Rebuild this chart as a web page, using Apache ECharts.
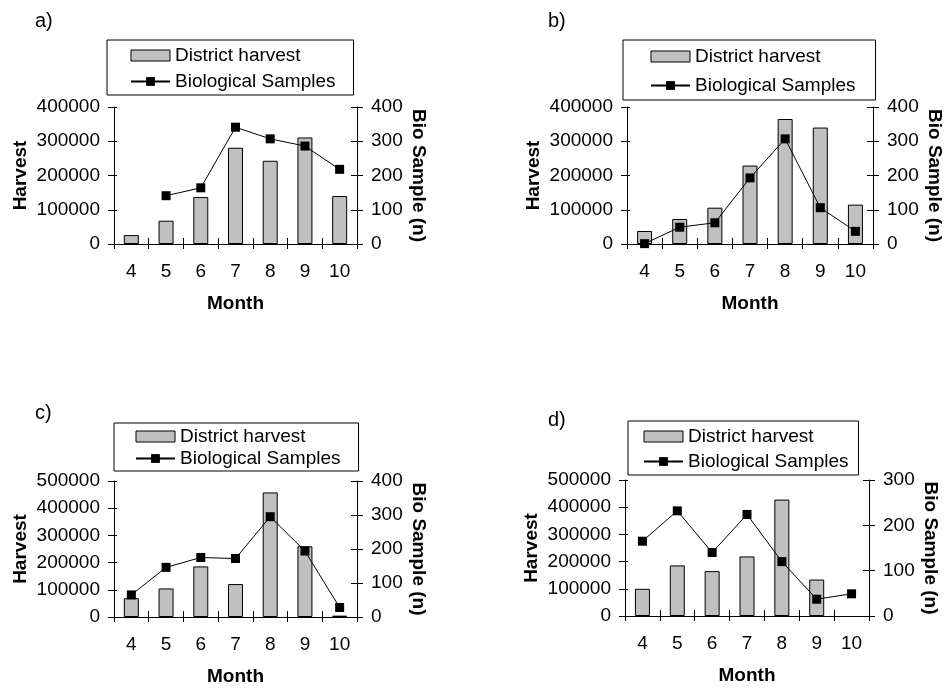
<!DOCTYPE html>
<html>
<head>
<meta charset="utf-8">
<script src="https://cdn.jsdelivr.net/npm/echarts@6/dist/echarts.min.js"></script>
<style>html,body{margin:0;padding:0;background:#fff;}#c{width:946px;height:688px;}</style>
</head>
<body>
<div id="c"></div>
<script>
// ---- data ----
const months = ['4', '5', '6', '7', '8', '9', '10'];
const harvestA = [26000, 68000, 137000, 281000, 243000, 311000, 140000];
const bioA = [null, 141, 164, 341, 307, 286, 218];
const harvestB = [38000, 73000, 106000, 229000, 365000, 340000, 115000];
const bioB = [1, 49, 62, 193, 307, 106, 37];
const harvestC = [69000, 105000, 186000, 121000, 458000, 260000, 5000];
const bioC = [65, 146, 175, 172, 295, 194, 28];
const harvestD = [100000, 186000, 165000, 219000, 428000, 134000, null];
const bioD = [165, 232, 140, 224, 120, 37, 49];
const panelLabels = ['a)', 'b)', 'c)', 'd)'];
const harvestMax = [400000, 400000, 500000, 500000];
const bioMax = [400, 400, 400, 300];
const seriesNames = ['District harvest', 'Biological Samples'];
const xName = 'Month', yLeftName = 'Harvest', yRightName = 'Bio Sample (n)';

// ---- layout ----
const FONT = '"Liberation Sans", Arial, sans-serif';
const FS = 19;
const layout = [
  {lab: [30, 6],  grid: {left: 114, top: 107, width: 243, height: 137}, leg: {left: 107, top: 40, padding: [6, 18, 4, 23], gap: 7}},
  {lab: [543, 6], grid: {left: 627, top: 107, width: 246, height: 137}, leg: {left: 623, top: 40, padding: [7, 20, 5, 27], gap: 10}},
  {lab: [30, 398], grid: {left: 114, top: 481, width: 243, height: 136}, leg: {left: 114, top: 423, padding: [4, 18, 3, 21], gap: 3}},
  {lab: [543, 405], grid: {left: 625, top: 480, width: 244, height: 136}, leg: {left: 628, top: 421, padding: [6, 10, 4, 15], gap: 6}}
];
const harvestData = [harvestA, harvestB, harvestC, harvestD];
const bioData = [bioA, bioB, bioC, bioD];

const black = '#000';
const plain = v => String(v);
const option = {
  backgroundColor: '#fff',
  animation: false,
  textStyle: {fontFamily: FONT, color: black},
  title: [], grid: [], xAxis: [], yAxis: [], series: [], legend: []
};

layout.forEach((L, i) => {
  option.title.push({text: panelLabels[i], left: L.lab[0], top: L.lab[1],
    textStyle: {fontFamily: FONT, fontSize: 20, fontWeight: 'normal', color: black}});
  option.grid.push(Object.assign({containLabel: false}, L.grid));
  const xi = option.xAxis.length;
  option.xAxis.push({
    type: 'category', gridIndex: i, data: months, boundaryGap: true,
    name: xName, nameLocation: 'middle', nameGap: 50,
    nameTextStyle: {fontFamily: FONT, fontSize: FS, fontWeight: 'bold', color: black},
    axisLine: {show: true, onZero: false, lineStyle: {color: black, width: 1}},
    axisTick: {show: true, alignWithLabel: false, interval: 0, length: 5, lineStyle: {color: black}},
    axisLabel: {show: true, interval: 0, margin: 18, fontFamily: FONT, fontSize: FS, color: black},
    splitLine: {show: false}
  });
  option.xAxis.push({
    type: 'category', gridIndex: i, data: months, boundaryGap: true, position: 'bottom',
    axisLine: {show: false},
    axisTick: {show: true, inside: true, interval: 0, length: 6, lineStyle: {color: black}},
    axisLabel: {show: false}, splitLine: {show: false}
  });
  const yi = option.yAxis.length;
  option.yAxis.push({
    type: 'value', gridIndex: i, position: 'left', min: 0, max: harvestMax[i], interval: 100000,
    name: yLeftName, nameLocation: 'middle', nameGap: 84,
    nameTextStyle: {fontFamily: FONT, fontSize: FS, fontWeight: 'bold', color: black},
    axisLine: {show: true, onZero: false, lineStyle: {color: black, width: 1}},
    axisTick: {show: true, length: 6, lineStyle: {color: black}},
    axisLabel: {margin: 14, fontFamily: FONT, fontSize: FS, color: black, formatter: plain},
    splitLine: {show: false}
  });
  option.yAxis.push({
    type: 'value', gridIndex: i, position: 'right', min: 0, max: bioMax[i], interval: 100,
    name: yRightName, nameLocation: 'middle', nameGap: 52, nameRotate: -90,
    nameTextStyle: {fontFamily: FONT, fontSize: FS, fontWeight: 'bold', color: black},
    axisLine: {show: true, onZero: false, lineStyle: {color: black, width: 1}},
    axisTick: {show: true, length: 6, lineStyle: {color: black}},
    axisLabel: {margin: 14, fontFamily: FONT, fontSize: FS, color: black, formatter: plain},
    splitLine: {show: false}
  });
  option.yAxis.push({
    type: 'value', gridIndex: i, position: 'left', min: 0, max: harvestMax[i], interval: 100000,
    axisLine: {show: false}, axisTick: {show: true, inside: true, length: 3, lineStyle: {color: black}},
    axisLabel: {show: false}, splitLine: {show: false}
  });
  option.yAxis.push({
    type: 'value', gridIndex: i, position: 'right', min: 0, max: bioMax[i], interval: 100,
    axisLine: {show: false}, axisTick: {show: true, inside: true, length: 6, lineStyle: {color: black}},
    axisLabel: {show: false}, splitLine: {show: false}
  });
  option.series.push({
    name: seriesNames[0], type: 'bar', xAxisIndex: xi, yAxisIndex: yi,
    data: harvestData[i], barWidth: 15,
    itemStyle: {color: '#c0c0c0', borderColor: black, borderWidth: 1}
  });
  option.series.push({
    name: seriesNames[1], type: 'line', xAxisIndex: xi, yAxisIndex: yi + 1,
    data: bioData[i], symbol: 'rect', symbolSize: 9, showSymbol: true,
    lineStyle: {color: black, width: 1}, itemStyle: {color: black},
    z: 5
  });
  option.legend.push({
    orient: 'vertical', left: L.leg.left, top: L.leg.top, padding: L.leg.padding,
    itemGap: L.leg.gap, itemWidth: 39, itemHeight: 11,
    borderColor: black, borderWidth: 1, backgroundColor: '#fff',
    selectedMode: false,
    textStyle: {fontFamily: FONT, fontSize: FS, color: black, lineHeight: 18},
    data: [
      {name: seriesNames[0], icon: 'rect', itemStyle: {color: '#c0c0c0', borderColor: black, borderWidth: 1}},
      {name: seriesNames[1], itemStyle: {color: black}}
    ]
  });
});

const chart = echarts.init(document.getElementById('c'), null, {renderer: 'canvas'});
chart.setOption(option);
</script>
</body>
</html>
